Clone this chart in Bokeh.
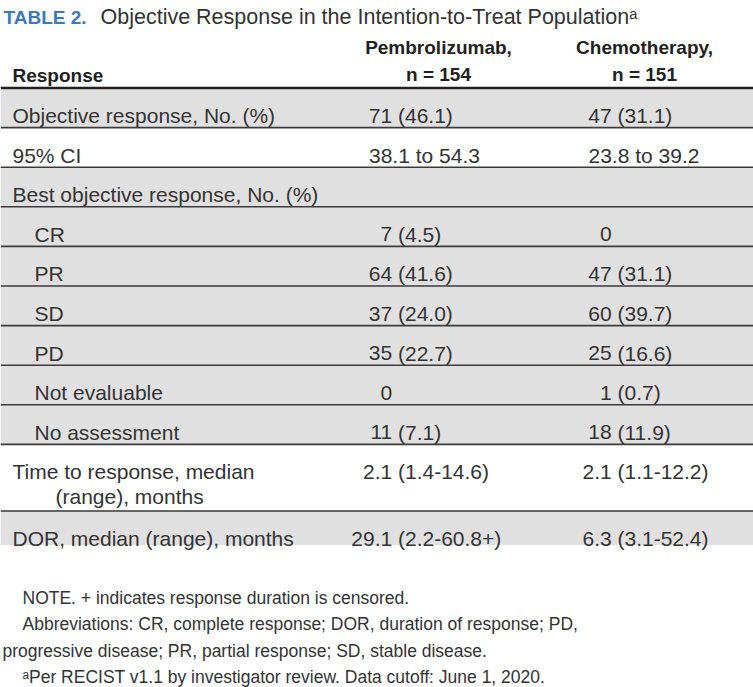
from bokeh.plotting import figure
from bokeh.models import Range1d
from bokeh.core.properties import value
from bokeh.embed import file_html
from bokeh.resources import INLINE

# ---------------- data ----------------
title_label = "TABLE 2."
title_text = "Objective Response in the Intention-to-Treat Population\u1d43"

header_response = "Response"
arm_names = ["Pembrolizumab,", "Chemotherapy,"]
arm_n = ["n = 154", "n = 151"]

row_labels = [
    "Objective response, No. (%)",
    "95% CI",
    "Best objective response, No. (%)",
    "CR",
    "PR",
    "SD",
    "PD",
    "Not evaluable",
    "No assessment",
    "Time to response, median\n(range), months",
    "DOR, median (range), months",
]
row_indent = [0, 0, 0, 1, 1, 1, 1, 1, 1, 0, 0]
row_shaded = [True, False, True, True, True, True, True, True, True, False, True]

pembro = ["71 (46.1)", "38.1 to 54.3", "", "7 (4.5)", "64 (41.6)", "37 (24.0)",
          "35 (22.7)", "0", "11 (7.1)", "2.1 (1.4-14.6)", "29.1 (2.2-60.8+)"]
chemo = ["47 (31.1)", "23.8 to 39.2", "", "0", "47 (31.1)", "60 (39.7)",
         "25 (16.6)", "1 (0.7)", "18 (11.9)", "2.1 (1.1-12.2)", "6.3 (3.1-52.4)"]

footnotes = [
    "NOTE. + indicates response duration is censored.",
    "Abbreviations: CR, complete response; DOR, duration of response; PD,\nprogressive disease; PR, partial response; SD, stable disease.",
    "\u1d43Per RECIST v1.1 by investigator review. Data cutoff: June 1, 2020.",
]

# ---------------- styles / layout ----------------
BODY = value("Liberation Sans")
TXT = "#333333"
DARK = "#231f20"
BLUE = "#3a7bbf"
GRAY = "#e1e0e1"

W, H = 753, 687
p = figure(width=W, height=H, x_range=Range1d(0, W), y_range=Range1d(H, 0),
           title=None, output_backend="svg", toolbar_location=None, min_border=0,
           x_axis_location=None, y_axis_location=None)
p.grid.visible = False
p.outline_line_color = None
p.background_fill_color = "white"
p.border_fill_color = "white"

X_LEFT, X_RIGHT = 0, W
LABEL_X = 12
INDENT_X = 34
HANG_X = 55
PAREN_X = [397.5, 617.0]
HEAD_CX = [438.0, 644.0]
SPACE = 5.8
TABLE_TOP = 87.5
ROW_H = 39.6
EXTRA_LINE = 27.0
LAST_ROW_H = 34.0
BASE_OFF = 27.5
BODY_SIZE = "21px"
HEAD_SIZE = "19px"

# title
p.text(x=[3], y=[16.5], text=[title_label], text_font=BODY, text_font_style="bold",
       text_font_size="19px", text_color=BLUE, text_baseline="alphabetic")
p.text(x=[100], y=[16.5], text=[title_text], text_font=BODY,
       text_font_size="21.5px", text_color=TXT, text_baseline="alphabetic")

# header
p.text(x=[LABEL_X], y=[74.5], text=[header_response], text_font=BODY, text_font_style="bold",
       text_font_size=HEAD_SIZE, text_color=DARK, text_baseline="alphabetic")
p.text(x=HEAD_CX, y=[46.5, 46.5], text=arm_names, text_font=BODY, text_font_style="bold",
       text_font_size=HEAD_SIZE, text_color=DARK, text_baseline="alphabetic", text_align="center")
p.text(x=HEAD_CX, y=[73.5, 73.5], text=arm_n, text_font=BODY, text_font_style="bold",
       text_font_size=HEAD_SIZE, text_color=DARK, text_baseline="alphabetic", text_align="center")

# rows geometry
tops, bottoms = [], []
y = TABLE_TOP
for i, lab in enumerate(row_labels):
    n_lines = lab.count("\n") + 1
    h = ROW_H + EXTRA_LINE * (n_lines - 1)
    if i == len(row_labels) - 1:
        h = LAST_ROW_H
    tops.append(y)
    bottoms.append(y + h)
    y += h

sh_t = [t for t, s in zip(tops, row_shaded) if s]
sh_b = [b for b, s in zip(bottoms, row_shaded) if s]
p.quad(left=[X_LEFT] * len(sh_t), right=[X_RIGHT] * len(sh_t), top=sh_t, bottom=sh_b,
       fill_color=GRAY, line_color=None)

# separators
sep_y = bottoms[:-1]
p.segment(x0=[X_LEFT] * len(sep_y), x1=[X_RIGHT] * len(sep_y), y0=sep_y, y1=sep_y,
          line_color="#3a3a3a", line_width=1.6)
p.segment(x0=[X_LEFT], x1=[X_RIGHT], y0=[TABLE_TOP], y1=[TABLE_TOP],
          line_color=DARK, line_width=2.6)

# row labels
lx, ly, lt = [], [], []
for lab, ind, t in zip(row_labels, row_indent, tops):
    parts = lab.split("\n")
    for k, part in enumerate(parts):
        if k == 0:
            lx.append(INDENT_X if ind else LABEL_X)
        else:
            lx.append(HANG_X)
        ly.append(t + BASE_OFF + k * 25)
        lt.append(part)
p.text(x=lx, y=ly, text=lt, text_font=BODY, text_font_size=BODY_SIZE,
       text_color=TXT, text_baseline="alphabetic")

# values aligned on the opening parenthesis
for col, vals in enumerate([pembro, chemo]):
    ax = PAREN_X[col]
    rx, ry, rt = [], [], []   # right-aligned number part
    qx, qy, qt = [], [], []   # left-aligned paren part / ranges
    for v, t in zip(vals, tops):
        yb = t + BASE_OFF
        if not v:
            continue
        if " (" in v:
            i = v.index(" (")
            rx.append(ax - SPACE); ry.append(yb); rt.append(v[:i])
            qx.append(ax); qy.append(yb); qt.append(v[i + 1:])
        elif " to " in v:
            qx.append(ax - 29); qy.append(yb); qt.append(v)
        else:
            rx.append(ax - SPACE); ry.append(yb); rt.append(v)
    p.text(x=rx, y=ry, text=rt, text_font=BODY, text_font_size=BODY_SIZE,
           text_color=TXT, text_baseline="alphabetic", text_align="right")
    p.text(x=qx, y=qy, text=qt, text_font=BODY, text_font_size=BODY_SIZE,
           text_color=TXT, text_baseline="alphabetic", text_align="left")

# footnotes
fx, fy, ft = [], [], []
yb = 597
for para in footnotes:
    for k, line in enumerate(para.split("\n")):
        fx.append(22 if k == 0 else 2)
        fy.append(yb)
        ft.append(line)
        yb += 26.5
p.text(x=fx, y=fy, text=ft, text_font=BODY, text_font_size="17.5px",
       text_color=TXT, text_baseline="alphabetic")

open("out.html", "w").write(file_html(p, INLINE))
